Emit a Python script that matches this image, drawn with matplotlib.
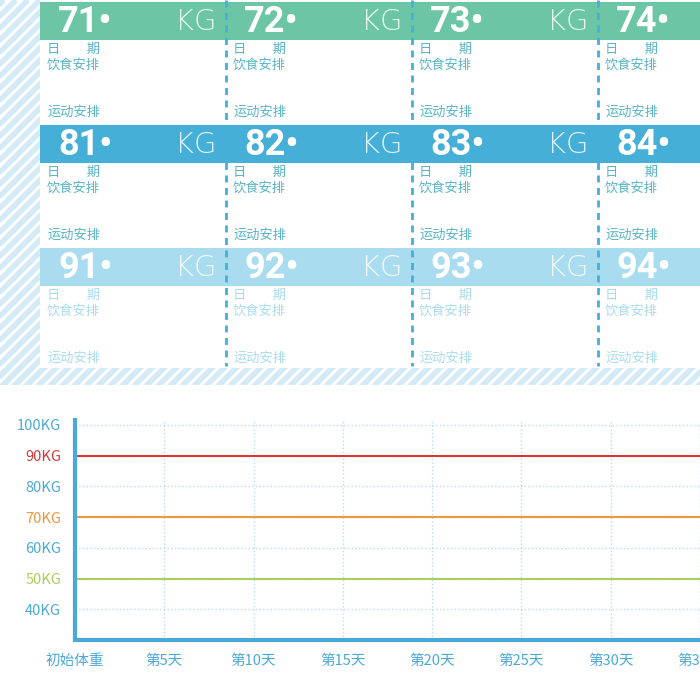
import matplotlib
matplotlib.use("Agg")
import matplotlib.pyplot as plt
from matplotlib.patches import Rectangle
import numpy as np

plt.rcParams['font.family'] = ['Noto Sans CJK SC', 'DejaVu Sans']

rows = [[71, 72, 73, 74], [81, 82, 83, 84], [91, 92, 93, 94]]
row_colors = ['#6cc5a5', '#45afd8', '#aadcf0']
label_colors = ['#58b4c6', '#58b4c6', '#a9dcef']
day_labels = ['初始体重', '第5天', '第10天', '第15天', '第20天', '第25天', '第30天', '第35天']
day_values = [0, 5, 10, 15, 20, 25, 30, 35]
weight_ticks = [40, 50, 60, 70, 80, 90, 100]
tick_colors = {90: '#d9373a', 70: '#f0963c', 50: '#a8cf5a'}
target_lines = [90, 70, 50]

fig = plt.figure(figsize=(7, 7), dpi=100)

# ---------- top card area ----------
ax = fig.add_axes([0, 0, 1, 1])
ax.set_xlim(0, 700)
ax.set_ylim(700, 0)
ax.axis('off')

stripe = '#d3eaf7'
clipL = Rectangle((0, 0), 40, 385, transform=ax.transData)
clipB = Rectangle((0, 368), 700, 17, transform=ax.transData)
for c in (clipL, clipB):
    for k in range(-40, 80):
        x0 = k * 12
        ln, = ax.plot([x0, x0 + 400], [400, 0], color=stripe, lw=4, solid_capstyle='butt')
        ln.set_clip_path(c)

col_x = [40, 226, 412, 598]
col_w = 186
row_y = [2, 125, 248]
band_h = 38
for r, nums in enumerate(rows):
    y0 = row_y[r]
    ax.add_patch(Rectangle((40, y0), 660, band_h, color=row_colors[r], lw=0))
    for c, n in enumerate(nums):
        x0 = col_x[c]
        ax.text(x0 + 18, y0 + band_h / 2 + 1, f'{n}•', color='white', fontsize=26,
                fontweight='bold', family='Roboto', va='center', ha='left')
        ax.text(x0 + col_w - 10, y0 + band_h / 2 + 1, 'KG', color='white', fontsize=21,
                fontweight='light', family='DejaVu Sans', va='center', ha='right', alpha=0.85)
        lc = label_colors[r]
        ax.text(x0 + 7, y0 + 47, '日　　期', color=lc, fontsize=9.5, va='center')
        ax.text(x0 + 7, y0 + 63, '饮食安排', color=lc, fontsize=9.5, va='center')
        ax.text(x0 + 7, y0 + 110, '运动安排', color=lc, fontsize=9.5, va='center')
for x in col_x[1:]:
    ax.plot([x, x], [0, 366], color='#45afd8', lw=2, ls=(0, (2.5, 2)))

# ---------- weight chart ----------
ax2 = fig.add_axes([75 / 700, 60 / 700, 625 / 700, 220 / 700])
ax2.set_xlim(0, 33.8)
ax2.set_ylim(30, 30 + 70 * 220 / 215)
for s in ['top', 'right']:
    ax2.spines[s].set_visible(False)
for s in ['left', 'bottom']:
    ax2.spines[s].set_color('#4ba9d6')
    ax2.spines[s].set_linewidth(3)
ax2.set_yticks(weight_ticks)
ax2.set_yticklabels([f'{w}KG' for w in weight_ticks])
ax2.set_xticks(day_values)
ax2.set_xticklabels(day_labels)
ax2.tick_params(length=0, labelsize=10.5, colors='#4ba9d6', pad=10)
for lab, w in zip(ax2.get_yticklabels(), weight_ticks):
    lab.set_color(tick_colors.get(w, '#4ba9d6'))
ax2.grid(True, color='#b8dcef', ls=':', lw=1)
line_colors = ['#d9373a', '#f0963c', '#a8cf5a']
for w, c in zip(target_lines, line_colors):
    ax2.axhline(w, color=c, lw=1.5)
ax2.set_facecolor('none')

fig.savefig('out.png', dpi=100)
